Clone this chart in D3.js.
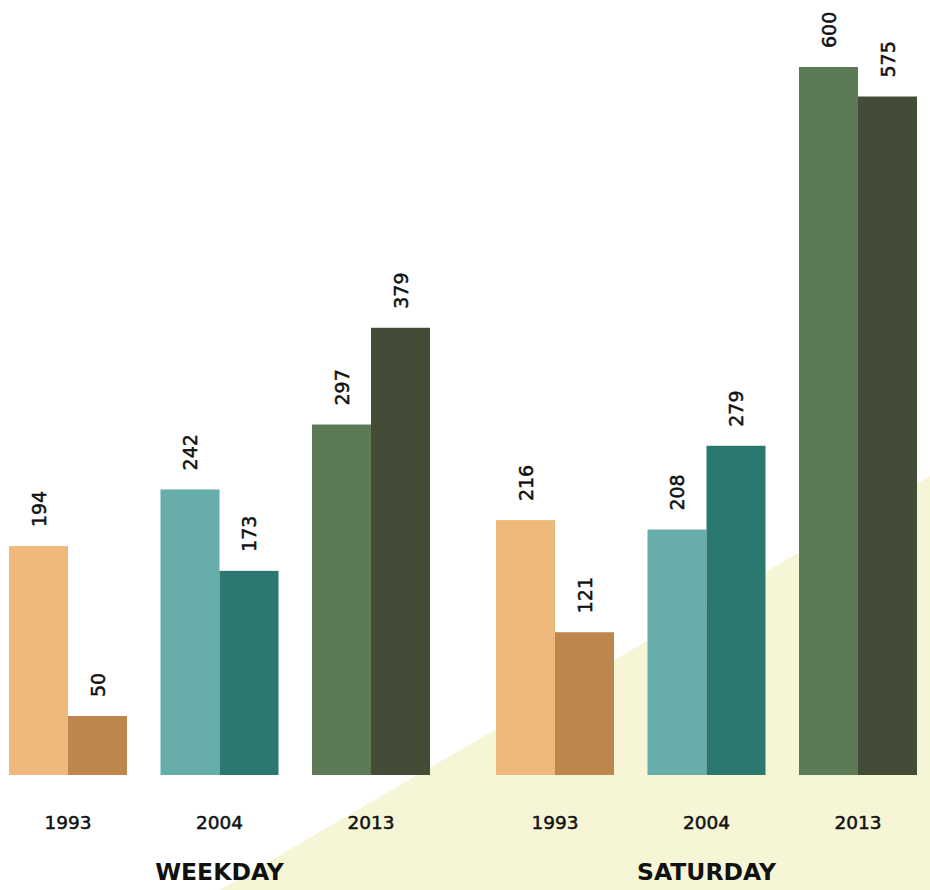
<!DOCTYPE html>
<html><head><meta charset="utf-8">
<script src="https://cdn.jsdelivr.net/npm/d3@7"></script>
<style>html,body{margin:0;padding:0;background:#fff;}svg{display:block;}</style>
</head><body>
<svg id="chart" width="930" height="890"></svg>
<script>
const groups = ["WEEKDAY", "SATURDAY"];
const years = ["1993", "2004", "2013"];
const seriesNames = ["first", "second"];
// values per group, per year: [first bar, second bar]
const weekdayFirst = [194, 242, 297];
const weekdaySecond = [50, 173, 379];
const saturdayFirst = [216, 208, 600];
const saturdaySecond = [121, 279, 575];
const yTicks = [0, 600];

const lightColors = {"1993": "#efb97b", "2004": "#67ada9", "2013": "#5c7a55"};
const darkColors  = {"1993": "#bd864d", "2004": "#2b7870", "2013": "#424c36"};

const data = [];
groups.forEach((g, gi) => {
  const f = gi === 0 ? weekdayFirst : saturdayFirst;
  const s = gi === 0 ? weekdaySecond : saturdaySecond;
  years.forEach((y, yi) => {
    data.push({group: g, year: y, series: "first", value: f[yi]});
    data.push({group: g, year: y, series: "second", value: s[yi]});
  });
});

const svg = d3.select("#chart");
const W = 930, H = 890;

// background triangle
svg.append("path")
  .attr("d", `M220,${H} L${W},476 L${W},${H} Z`)
  .attr("fill", "#f6f6d6");

const x0 = d3.scaleBand().domain(groups).range([9, 917]).paddingInner(66/487).paddingOuter(0);
const x1 = d3.scaleBand().domain(years).range([0, x0.bandwidth()]).paddingInner(33.5/151.5).paddingOuter(0);
const x2 = d3.scaleBand().domain(seriesNames).range([0, x1.bandwidth()]).padding(0);
const y = d3.scaleLinear().domain(yTicks).range([775, 67]);

const bx = d => x0(d.group) + x1(d.year) + x2(d.series);

svg.append("g").selectAll("rect").data(data).join("rect")
  .attr("x", bx)
  .attr("y", d => y(d.value))
  .attr("width", x2.bandwidth())
  .attr("height", d => y(0) - y(d.value))
  .attr("fill", d => d.series === "first" ? lightColors[d.year] : darkColors[d.year]);

const font = "'DejaVu Sans', sans-serif";

svg.append("g").selectAll("text").data(data).join("text")
  .attr("transform", d => `translate(${bx(d) + x2.bandwidth()/2 + 7},${y(d.value) - 19}) rotate(-90)`)
  .attr("text-anchor", "start")
  .attr("font-family", font)
  .attr("font-size", 19)
  .attr("fill", "#111")
  .attr("stroke", "#111")
  .attr("stroke-width", 0.5)
  .text(d => d.value);

// year labels
const yl = [];
groups.forEach(g => years.forEach(yr => yl.push({group: g, year: yr})));
svg.append("g").selectAll("text").data(yl).join("text")
  .attr("x", d => x0(d.group) + x1(d.year) + x1.bandwidth()/2)
  .attr("y", 829)
  .attr("text-anchor", "middle")
  .attr("font-family", font)
  .attr("font-size", 18.5)
  .attr("fill", "#111")
  .attr("stroke", "#111")
  .attr("stroke-width", 0.5)
  .text(d => d.year);

svg.append("g").selectAll("text").data(groups).join("text")
  .attr("x", d => x0(d) + x0.bandwidth()/2)
  .attr("y", 880)
  .attr("text-anchor", "middle")
  .attr("font-family", font)
  .attr("font-weight", "bold")
  .attr("font-size", 23.5)
  .attr("fill", "#111")
  .text(d => d);
</script>
</body></html>
